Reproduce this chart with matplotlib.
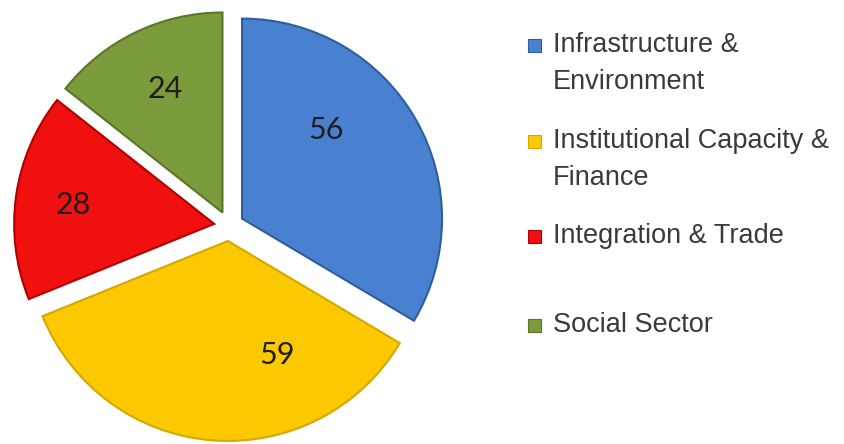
import numpy as np
import matplotlib.pyplot as plt
from matplotlib.patches import Rectangle

# data
categories = ['Infrastructure &\nEnvironment', 'Institutional Capacity &\nFinance',
              'Integration & Trade', 'Social Sector']
values = [56, 59, 28, 24]
colors = ['#4a80d0', '#fcc800', '#f01010', '#7b9b3c']
edges = ['#2f5e9e', '#d4a800', '#b00000', '#5a7628']

# label placement relative to each wedge (angle in deg, radius)
label_ang = [46.5, -66.7, 172.4, 115.1]
label_rad = [0.61, 0.62, 0.71, 0.68]

W, H = 845, 444
fig = plt.figure(figsize=(W / 100, H / 100), dpi=100)
ax = fig.add_axes([0, 0, 1, 1])

wedges, _ = ax.pie(values, colors=colors, startangle=90, counterclock=False,
                   explode=[0.075] * len(values), radius=1.0,
                   wedgeprops=dict(linewidth=1.5))
for w, ec in zip(wedges, edges):
    w.set_edgecolor(ec)

for w, v, a, r in zip(wedges, values, label_ang, label_rad):
    cx, cy = w.center
    t = np.deg2rad(a)
    ax.text(cx + r * np.cos(t), cy + r * np.sin(t), str(v), ha='center', va='center',
            fontsize=22, family='Lato', color='#1e1e1e')

ax.set_xlim(-1.145, 3.08)
ax.set_ylim(-1.09, 1.13)
ax.axis('off')

# legend drawn by hand (pixel positions of first line of each entry)
entry_y = [45, 141, 236, 325]
line_step = 37
for cat, col, ec, y in zip(categories, colors, edges, entry_y):
    fig.patches.append(Rectangle(((528) / W, 1 - (y + 7) / H), 13 / W, 13 / H,
                                 transform=fig.transFigure, facecolor=col,
                                 edgecolor=ec, linewidth=0.8))
    for k, line in enumerate(cat.split('\n')):
        fig.text(553 / W, 1 - (y + k * line_step) / H, line, ha='left', va='center',
                 fontsize=19.5, family='Liberation Sans', color='#3a3a3a')

fig.savefig('out.png', dpi=100, facecolor='white')
